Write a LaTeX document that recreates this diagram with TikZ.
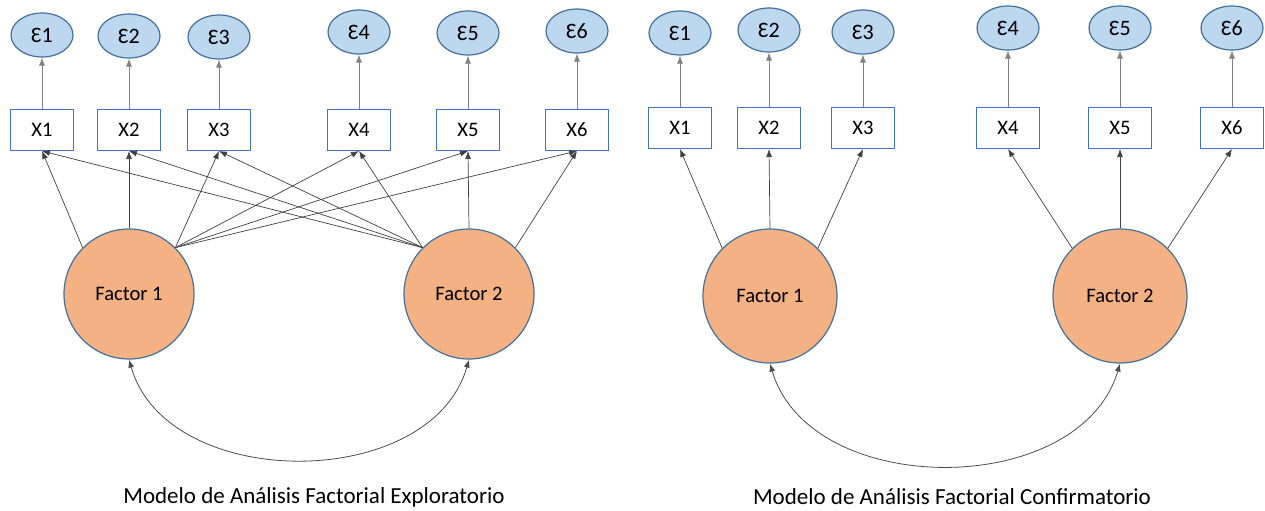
\documentclass[tikz,border=0pt]{standalone}
\usepackage{fontspec}
\setmainfont{Carlito}
\usetikzlibrary{arrows.meta,shapes.geometric}

\definecolor{errfill}{RGB}{189,215,238}
\definecolor{errline}{RGB}{65,113,156}
\definecolor{boxline}{RGB}{68,114,196}
\definecolor{facfill}{RGB}{244,177,131}
\definecolor{facline}{RGB}{65,113,156}

\tikzset{
	errnode/.style={ellipse,draw=errline,fill=errfill,line width=0.6pt,minimum width=31pt,minimum height=22pt,inner sep=0pt,font=\fontsize{11}{12}\selectfont},
	varnode/.style={rectangle,draw=boxline,fill=white,line width=0.5pt,minimum width=31.5pt,minimum height=20.5pt,inner sep=0pt},
	facnode/.style={circle,draw=facline,fill=facfill,line width=0.6pt,inner sep=0pt},
	load/.style={-{Latex[length=4pt,width=3pt]},line width=0.35pt,black!75},
	errarrow/.style={-{Latex[length=4pt,width=3pt]},line width=0.4pt,black!50},
	covar/.style={{Latex[length=4pt,width=3pt]}-{Latex[length=4pt,width=3pt]},line width=0.4pt,black!70},
	titlenode/.style={font=\fontsize{11.5}{13}\selectfont}
}

\begin{document}
\begin{tikzpicture}[x=0.5pt,y=-0.5pt,font=\fontsize{10.3}{12}\selectfont]
\useasboundingbox (0,0) rectangle (1265,510);
%%% Exploratorio: indicators with their error terms
\foreach \i/\x/\e in {1/42/35,2/129/36,3/219/37,4/359/32,5/468/33,6/577/31}
{
	\node[varnode] (eX\i) at (\x,130) {X\i};
	\node[errnode] (eE\i) at (\x,\e) {Ɛ\i};
	\draw[errarrow] (eX\i) -- (eE\i);
}
\node[facnode,minimum size=65pt] (eF1) at (129,294) {Factor 1};
\node[facnode,minimum size=65pt] (eF2) at (469,294) {Factor 2};
%%% every factor loads on every indicator
\draw[load] (eF1.135) -- (eX1.south);
\draw[load] (eF1.north) -- (eX2.south);
\foreach \j in {3,...,6}
	\draw[load] (eF1.45) -- (eX\j.south);
\foreach \j in {1,...,4}
	\draw[load] (eF2.135) -- (eX\j.south);
\draw[load] (eF2.north) -- (eX5.south);
\draw[load] (eF2.45) -- (eX6.south);
\draw[covar] (eF1.south) .. controls +(38,133) and +(-38,133) .. (eF2.south);
\node[titlenode] (eTitle) at (314,497) {Modelo de Análisis Factorial Exploratorio};

%%% Confirmatorio: same indicators, simple structure
\foreach \i/\x/\e in {1/680/33,2/769/30,3/863/32,4/1008/28,5/1120/28,6/1232/28}
{
	\node[varnode] (cX\i) at (\x,128) {X\i};
	\node[errnode] (cE\i) at (\x,\e) {Ɛ\i};
	\draw[errarrow] (cX\i) -- (cE\i);
}
\node[facnode,minimum size=67pt] (cF1) at (770,296) {Factor 1};
\node[facnode,minimum size=67pt] (cF2) at (1120,296) {Factor 2};
\draw[load] (cF1.135) -- (cX1.south);
\draw[load] (cF1.north) -- (cX2.south);
\draw[load] (cF1.45) -- (cX3.south);
\draw[load] (cF2.135) -- (cX4.south);
\draw[load] (cF2.north) -- (cX5.south);
\draw[load] (cF2.45) -- (cX6.south);
\draw[covar] (cF1.south) .. controls +(40,136) and +(-40,136) .. (cF2.south);
\node[titlenode] (cTitle) at (952,497) {Modelo de Análisis Factorial Confirmatorio};
\end{tikzpicture}
\end{document}
